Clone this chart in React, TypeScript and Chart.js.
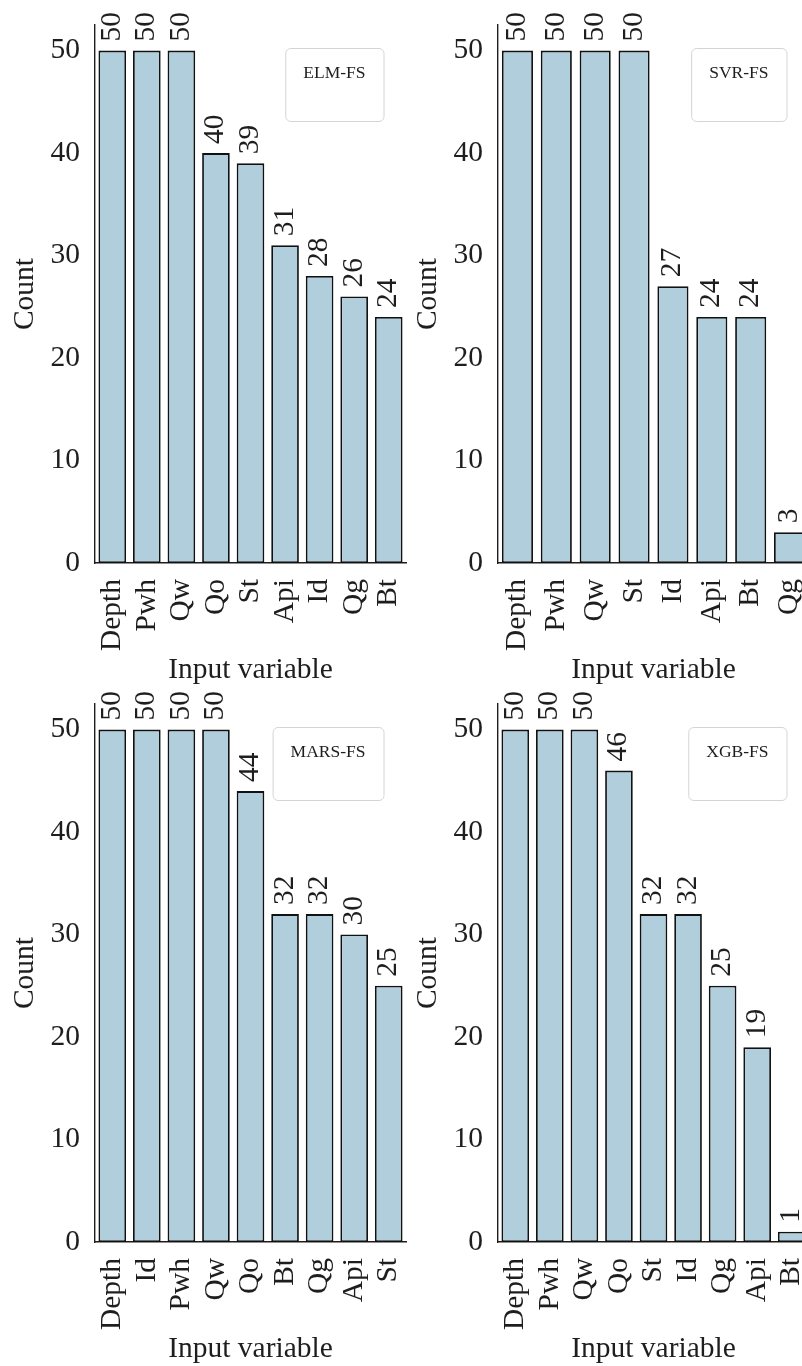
import React, { useEffect, useRef } from 'react';
import { Chart, registerables } from 'chart.js';

Chart.register(...registerables);

// ---- data ----
const elmLabels = ['Depth', 'Pwh', 'Qw', 'Qo', 'St', 'Api', 'Id', 'Qg', 'Bt'];
const elmCounts = [50, 50, 50, 40, 39, 31, 28, 26, 24];

const svrLabels = ['Depth', 'Pwh', 'Qw', 'St', 'Id', 'Api', 'Bt', 'Qg'];
const svrCounts = [50, 50, 50, 50, 27, 24, 24, 3];

const marsLabels = ['Depth', 'Id', 'Pwh', 'Qw', 'Qo', 'Bt', 'Qg', 'Api', 'St'];
const marsCounts = [50, 50, 50, 50, 44, 32, 32, 30, 25];

const xgbLabels = ['Depth', 'Pwh', 'Qw', 'Qo', 'St', 'Id', 'Qg', 'Api', 'Bt'];
const xgbCounts = [50, 50, 50, 46, 32, 32, 25, 19, 1];

const yTicks = [0, 10, 20, 30, 40, 50];
const yMax = 52.5;

const xTitle = 'Input variable';
const yTitle = 'Count';

// ---- style ----
const FONT = '"Liberation Serif", "Times New Roman", "DejaVu Serif", serif';
const INK = '#1e1e1e';
const BAR_FILL = '#b0cedc';
const BAR_EDGE = '#111111';
const BIG = 29.5;

const valueAndLegend = {
  id: 'valueAndLegend',
  afterDatasetsDraw(chart: any, _args: any, opts: any) {
    const ctx = chart.ctx as CanvasRenderingContext2D;
    const meta = chart.getDatasetMeta(0);
    const data = chart.data.datasets[0].data as number[];
    ctx.save();
    ctx.font = `${BIG}px ${FONT}`;
    ctx.fillStyle = INK;
    ctx.textAlign = 'left';
    ctx.textBaseline = 'alphabetic';
    meta.data.forEach((el: any, i: number) => {
      ctx.save();
      ctx.translate(el.x + 7.5, el.y - 9);
      ctx.rotate(-Math.PI / 2);
      ctx.fillText(String(data[i]), 0, 0);
      ctx.restore();
    });
    // legend box
    const { right, top } = chart.chartArea;
    ctx.font = `17.5px ${FONT}`;
    const tw = ctx.measureText(opts.text).width;
    const w = tw + 36;
    const h = 73;
    const x = right - 22.5 - w;
    const y = top + 23;
    ctx.beginPath();
    if ((ctx as any).roundRect) {
      (ctx as any).roundRect(x + 0.5, y + 0.5, w, h, 5);
    } else {
      ctx.rect(x + 0.5, y + 0.5, w, h);
    }
    ctx.fillStyle = 'rgba(255,255,255,0.85)';
    ctx.fill();
    ctx.strokeStyle = '#d4d4d4';
    ctx.lineWidth = 1;
    ctx.stroke();
    ctx.fillStyle = INK;
    ctx.textAlign = 'center';
    ctx.textBaseline = 'middle';
    ctx.fillText(opts.text, x + w / 2, y + 25);
    ctx.restore();
  },
};

type PanelProps = {
  labels: string[];
  counts: number[];
  legend: string;
  left: number;
  top: number;
};

const W = 420;
const H = 687;

const zeroPad = (s: any) => {
  s.paddingTop = 0;
  s.paddingBottom = 0;
  s.paddingLeft = 0;
  s.paddingRight = 0;
};

function Panel({ labels, counts, legend, left, top }: PanelProps) {
  const ref = useRef<HTMLCanvasElement>(null);
  useEffect(() => {
    if (!ref.current) return;
    const font = { family: FONT, size: BIG, lineHeight: 1 };
    const chart = new Chart(ref.current, {
      type: 'bar',
      data: {
        labels,
        datasets: [
          {
            data: counts,
            backgroundColor: BAR_FILL,
            borderColor: BAR_EDGE,
            borderWidth: 1.8,
            borderSkipped: false,
            barPercentage: 0.8,
            categoryPercentage: 1,
          },
        ],
      },
      options: {
        responsive: false,
        animation: false,
        devicePixelRatio: 1,
        layout: { padding: { top: 25, right: 14, left: 0, bottom: 0 } },
        plugins: {
          legend: { display: false },
          tooltip: { enabled: false },
          valueAndLegend: { text: legend },
        } as any,
        scales: {
          x: {
            grid: { display: false, drawTicks: false },
            border: { display: true, color: INK, width: 1.4 },
            ticks: {
              autoSkip: false,
              maxRotation: 90,
              minRotation: 90,
              padding: 16,
              color: INK,
              font,
            },
            title: {
              display: true,
              text: xTitle,
              color: INK,
              font,
              padding: { top: 0, bottom: 2 },
            },
            afterFit: (s: any) => {
              s.height = H - 563;
              zeroPad(s);
            },
          },
          y: {
            min: 0,
            max: yMax,
            grid: { display: false, drawTicks: false },
            border: { display: true, color: INK, width: 1.4 },
            ticks: {
              padding: 15,
              color: INK,
              font,
            },
            afterBuildTicks: (s: any) => {
              s.ticks = yTicks.map((v) => ({ value: v }));
            },
            title: {
              display: true,
              text: yTitle,
              color: INK,
              font,
              padding: { top: 10, bottom: 0 },
            },
            afterFit: (s: any) => {
              s.width = 95;
              zeroPad(s);
            },
          },
        },
      } as any,
      plugins: [valueAndLegend],
    });
    return () => chart.destroy();
  }, [labels, counts, legend]);
  return (
    <canvas
      ref={ref}
      width={W}
      height={H}
      style={{ position: 'absolute', left, top, width: W, height: H }}
    />
  );
}

export default function App() {
  return (
    <div
      style={{
        position: 'fixed',
        left: 0,
        top: 0,
        width: 802,
        height: 1366,
        overflow: 'hidden',
        background: '#ffffff',
      }}
    >
      <Panel labels={elmLabels} counts={elmCounts} legend="ELM-FS" left={0} top={0} />
      <Panel labels={svrLabels} counts={svrCounts} legend="SVR-FS" left={403} top={0} />
      <Panel labels={marsLabels} counts={marsCounts} legend="MARS-FS" left={0} top={679} />
      <Panel labels={xgbLabels} counts={xgbCounts} legend="XGB-FS" left={403} top={679} />
    </div>
  );
}
